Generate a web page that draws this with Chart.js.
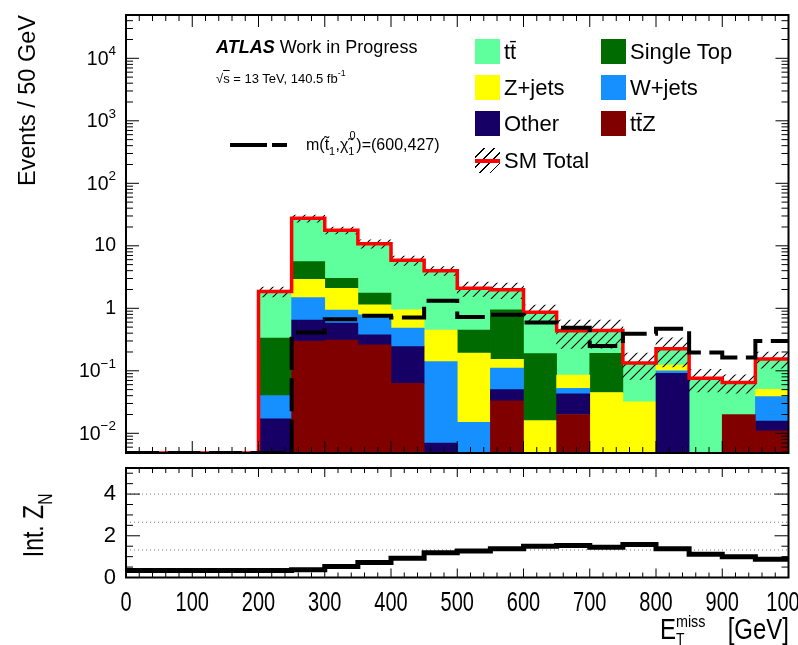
<!DOCTYPE html>
<html>
<head>
<meta charset="utf-8">
<script src="https://cdn.jsdelivr.net/npm/chart.js@4.4.1/dist/chart.umd.min.js"></script>
<style>
  html, body { margin: 0; padding: 0; background: #fff; }
  body { width: 798px; height: 645px; position: relative; overflow: hidden;
         font-family: "Liberation Sans", Arial, Helvetica, sans-serif; color: #000; }
  canvas { position: absolute; left: 0; top: 0; }
  .txt { position: absolute; white-space: nowrap; line-height: 1; }
  .leg { position: absolute; height: 25px; display: flex; align-items: center;
         font-size: 22px; line-height: 1; white-space: nowrap; }
  .leg .box { width: 25px; height: 25px; margin-right: 4px; flex: none; position: relative; }
  .hatch { background: repeating-linear-gradient(135deg, transparent 0 6px, #000 6px 7.2px); }
  .redbar { position: absolute; left: 0; right: 0; top: 11px; height: 4px; background: #f00; }
  .ss { position: relative; display: inline-block; height: 0; vertical-align: baseline; }
  .ss .u, .ss .d { position: absolute; left: 0; font-size: 0.68em; line-height: 1; }
  .ss .u { bottom: 0.5em; }
  .ss .d { top: -0.4em; }
  .dash { position: absolute; height: 4px; background: #000; }
</style>
</head>
<body>
<canvas id="upper" width="798" height="645"></canvas>
<canvas id="lower" width="798" height="645"></canvas>

<div class="txt" style="left:15px; top:315px; width:300px; text-align:right; font-size:23.5px; line-height:24px; transform-origin:top left; transform:rotate(-90deg);">Events / 50 GeV</div>
<div class="txt" style="left:-27px; top:511px; width:120px; text-align:center; font-size:23px; line-height:24px; transform:rotate(-90deg) scaleY(1.3);">Int. Z<span class="ss" style="width:0.7em"><span class="d">N</span></span></div>
<div class="txt" style="right:9px; top:614.5px; font-size:24px; transform-origin:right top; transform:scaleY(1.2);">E<span class="ss" style="width:1.6em"><span class="u" style="font-size:0.6em">miss</span><span class="d" style="font-size:0.58em">T</span></span>&nbsp;&nbsp;[GeV]</div>

<div class="txt" style="left:216px; top:38px; font-size:18px;"><b><i>ATLAS</i></b> Work in Progress</div>
<div class="txt" style="left:216px; top:71.5px; font-size:13px;">√<span style="text-decoration:overline">s</span> = 13 TeV, 140.5 fb<span class="ss" style="width:0.8em"><span class="u">-1</span></span></div>

<span class="dash" style="left:230px; top:143px; width:37px;"></span>
<span class="dash" style="left:272px; top:143px; width:15px;"></span>
<div class="txt" style="left:306px; top:137px; font-size:16px;">m(t&#x0303;<span class="ss" style="width:0.4em"><span class="d">1</span></span>,&#x03C7;&#x0303;<span class="ss" style="width:0.5em"><span class="u" style="bottom:0.8em; left:0.1em">0</span><span class="d">1</span></span>)=(600,427)</div>

<div class="leg" style="left:475px; top:39px;"><span class="box" style="background:#5eff9c"></span>tt&#x0304;</div>
<div class="leg" style="left:601px; top:39px;"><span class="box" style="background:#006b00"></span>Single Top</div>
<div class="leg" style="left:475px; top:75px;"><span class="box" style="background:#ffff00"></span>Z+jets</div>
<div class="leg" style="left:601px; top:75px;"><span class="box" style="background:#1790ff"></span>W+jets</div>
<div class="leg" style="left:475px; top:111px;"><span class="box" style="background:#160066"></span>Other</div>
<div class="leg" style="left:601px; top:111px;"><span class="box" style="background:#800000"></span>tt&#x0304;Z</div>
<div class="leg" style="left:475px; top:148px;"><span class="box hatch"><span class="redbar"></span></span>SM Total</div>

<script>
// bins of 50 GeV, lower edges
const binLow = [0, 50, 100, 150, 200, 250, 300, 350, 400, 450, 500, 550, 600, 650, 700, 750, 800, 850, 900, 950];

// expected events per bin, by process (stack order bottom -> top)
const ttz       = [0, 0, 0, 0, 0,     0.30, 0.31, 0.26,  0.063, 0,     0,     0.033, 0,     0.020,  0,     0,     0,      0,     0.020, 0.011];
const other     = [0, 0, 0, 0, 0.017, 0.35, 0.27, 0.115, 0.18,  0.007, 0,     0.017, 0,     0.023,  0,     0,     0.091,  0,     0,     0.0047];
const wjets     = [0, 0, 0, 0, 0.023, 0.83, 0.36, 0.41,  0.24,  0.133, 0.015, 0.061, 0,     0.0093, 0,     0,     0.0088, 0,     0,     0.023];
const zjets     = [0, 0, 0, 0, 0,     1.43, 1.15, 0.35,  0.46,  0.31,  0.178, 0.041, 0.016, 0.033,  0.045, 0.032, 0.024,  0,     0,     0.012];
const singleTop = [0, 0, 0, 0, 0.295, 2.66, 0.93, 0.61,  0,     0,     0.257, 0.79,  0.172, 0,      0.145, 0,     0,      0,     0,     0];
const ttbar     = [0, 0, 0, 0, 1.52,  21.9, 14.7, 9.06,  4.92,  3.55,  1.64,  1.04,  0.68,  0.352,  0.25,  0.101, 0.102,  0.076, 0.045, 0.104];

// SM total uncertainty (hatched band)
const smErr  = [0, 0, 0, 0, 0.33, 3.6, 2.2, 1.6, 1.0, 0.63, 0.54, 0.55, 0.26, 0.21, 0.21, 0.06, 0.11, 0.03, 0.021, 0.045];
// signal m(stop, neutralino) = (600, 427)
const signal = [0, 0, 0, 0, 0, 0.41, 0.67, 0.76, 0.71, 1.32, 0.725, 0.79, 0.59, 0.49, 0.25, 0.39, 0.47, 0.196, 0.163, 0.30];
// integrated significance (lower panel)
const intZN  = [0.33, 0.33, 0.33, 0.33, 0.33, 0.37, 0.53, 0.72, 0.92, 1.19, 1.27, 1.38, 1.5, 1.53, 1.45, 1.58, 1.38, 1.11, 1.0, 0.875];
const zRefLines = [1.32, 2.65, 4];

// tick labels
const yDecades = [-2, -1, 0, 1, 2, 3, 4];
const xLabels = [0, 100, 200, 300, 400, 500, 600, 700, 800, 900, 1000];
const znLabels = [0, 2, 4];

const Y_MIN = 4.84e-3, Y_MAX = 4.93e4;
const X_MAX = 1000, BIN = 50;
const FONT = '"Liberation Sans", Arial, sans-serif';

const processes = [
    { label: 'ttZ', values: ttz, color: '#800000' },
    { label: 'Other', values: other, color: '#160066' },
    { label: 'W+jets', values: wjets, color: '#1790ff' },
    { label: 'Z+jets', values: zjets, color: '#ffff00' },
    { label: 'Single Top', values: singleTop, color: '#006b00' },
    { label: 'ttbar', values: ttbar, color: '#5eff9c' },
];

const binCenter = binLow.map(x => x + BIN / 2);
const running = binLow.map(() => 0);
const barSets = processes.map(p => {
    const data = p.values.map((v, i) => {
        const lo = running[i];
        running[i] += v;
        return { x: binCenter[i], y: v > 0 ? [lo > 0 ? lo : Y_MIN, running[i]] : null };
    });
    return {
        type: 'bar', label: p.label, data, backgroundColor: p.color, borderWidth: 0,
        grouped: false, categoryPercentage: 1, barPercentage: 1, order: 10,
    };
});
const smTotal = running.slice();

// step line points at lower bin edges + closing point at the right edge
const stepPoints = (vals, floor) => {
    const pts = binLow.map((x, i) => ({ x, y: floor && !(vals[i] > 0) ? floor : vals[i] }));
    pts.push({ x: X_MAX, y: pts[pts.length - 1].y });
    return pts;
};

function hatchPattern() {
    const c = document.createElement('canvas');
    c.width = 10; c.height = 10;
    const g = c.getContext('2d');
    g.strokeStyle = '#000';
    g.lineWidth = 1.1;
    g.beginPath();
    g.moveTo(0, 10); g.lineTo(10, 0);
    g.moveTo(-1, 1); g.lineTo(1, -1);
    g.moveTo(9, 11); g.lineTo(11, 9);
    g.stroke();
    return g.createPattern(c, 'repeat');
}

// ROOT-like frame with inward ticks on all sides
const rootAxes = {
    id: 'rootAxes',
    afterDatasetsDraw(chart, args, o) {
        const { ctx, chartArea: a } = chart;
        const xs = chart.scales.x, ys = chart.scales.y;
        ctx.save();
        ctx.strokeStyle = '#000';
        ctx.lineWidth = 1;
        ctx.beginPath();
        for (let v = 0; v <= X_MAX; v += 20) {
            const px = xs.getPixelForValue(v);
            const len = v % 100 === 0 ? o.xMajor : o.xMinor;
            ctx.moveTo(px, a.bottom); ctx.lineTo(px, a.bottom - len);
            ctx.moveTo(px, a.top); ctx.lineTo(px, a.top + len);
        }
        o.yTicks().forEach(t => {
            const py = ys.getPixelForValue(t.v);
            if (py < a.top - 0.5 || py > a.bottom + 0.5) return;
            const len = t.major ? o.yMajor : o.yMinor;
            ctx.moveTo(a.left, py); ctx.lineTo(a.left + len, py);
            ctx.moveTo(a.right, py); ctx.lineTo(a.right - len, py);
        });
        ctx.stroke();
        ctx.lineWidth = 2;
        ctx.strokeRect(a.left, a.top, a.right - a.left, a.bottom - a.top);
        ctx.fillStyle = '#000';
        o.labels(ctx, xs, ys, a);
        ctx.restore();
    }
};

const commonScales = (yOpts) => ({
    x: {
        type: 'linear', min: 0, max: X_MAX, offset: false,
        ticks: { display: false, stepSize: 100 }, grid: { display: false, offset: false },
        border: { display: false }, afterFit(s) { s.height = 0; },
    },
    y: Object.assign({
        ticks: { display: false }, grid: { display: false }, border: { display: false },
        afterFit(s) { s.width = 0; },
    }, yOpts),
});

new Chart(document.getElementById('upper'), {
    type: 'bar',
    data: {
        datasets: [
            ...barSets,
            {
                type: 'bar', label: 'SM unc.', order: 3, grouped: false,
                categoryPercentage: 1, barPercentage: 1, borderWidth: 0,
                backgroundColor: hatchPattern(),
                data: smTotal.map((t, i) => ({ x: binCenter[i], y: t > 0 ? [t - smErr[i], t + smErr[i]] : null })),
            },
            {
                type: 'line', label: 'SM Total', order: 2, data: stepPoints(smTotal, Y_MIN),
                borderColor: '#ff0000', borderWidth: 3.5, stepped: true, pointRadius: 0, fill: false,
                borderCapStyle: 'butt', borderJoinStyle: 'miter',
            },
            {
                type: 'line', label: 'signal', order: 1, data: stepPoints(signal, Y_MIN),
                borderColor: '#000', borderWidth: 4, borderDash: [33, 8.5], stepped: true,
                pointRadius: 0, fill: false, borderCapStyle: 'butt', borderJoinStyle: 'miter',
            },
        ],
    },
    options: {
        responsive: false, animation: false, devicePixelRatio: 1, events: [],
        layout: { padding: { left: 126, right: 9.5, top: 15, bottom: 192 }, autoPadding: false },
        plugins: {
            legend: { display: false }, tooltip: { enabled: false },
            rootAxes: {
                xMajor: 12, xMinor: 6, yMajor: 13, yMinor: 7,
                yTicks() {
                    const t = [];
                    for (let e = -3; e <= 4; e++) {
                        for (let m = 1; m <= 9; m++) t.push({ v: m * Math.pow(10, e), major: m === 1 });
                    }
                    return t;
                },
                labels(ctx, xs, ys) {
                    const xr = 116;
                    ctx.textAlign = 'right';
                    ctx.textBaseline = 'middle';
                    yDecades.forEach(e => {
                        const py = ys.getPixelForValue(Math.pow(10, e));
                        ctx.font = '19.5px ' + FONT;
                        if (e === 0 || e === 1) {
                            ctx.fillText(e === 0 ? '1' : '10', xr, py);
                            return;
                        }
                        const ex = (e < 0 ? '\u2212' : '') + Math.abs(e);
                        ctx.font = '13.5px ' + FONT;
                        const w = ctx.measureText(ex).width;
                        ctx.fillText(ex, xr, py - 7);
                        ctx.font = '19.5px ' + FONT;
                        ctx.fillText('10', xr - w, py + 1);
                    });
                },
            },
        },
        scales: commonScales({ type: 'logarithmic', min: Y_MIN, max: Y_MAX }),
    },
    plugins: [rootAxes],
});

new Chart(document.getElementById('lower'), {
    type: 'line',
    data: {
        datasets: [
            {
                label: 'Int. ZN', order: 1, data: stepPoints(intZN), borderColor: '#000', borderWidth: 5,
                stepped: true, pointRadius: 0, fill: false, borderCapStyle: 'butt', borderJoinStyle: 'miter',
            },
            ...zRefLines.map(v => ({
                label: 'ref ' + v, order: 2, data: [{ x: 0, y: v }, { x: X_MAX, y: v }],
                borderColor: '#777', borderWidth: 1, borderDash: [1, 3], pointRadius: 0, fill: false,
            })),
        ],
    },
    options: {
        responsive: false, animation: false, devicePixelRatio: 1, events: [],
        layout: { padding: { left: 126, right: 9.5, top: 468, bottom: 67.5 }, autoPadding: false },
        plugins: {
            legend: { display: false }, tooltip: { enabled: false },
            rootAxes: {
                xMajor: 9, xMinor: 5, yMajor: 14, yMinor: 7,
                yTicks() {
                    const t = [];
                    for (let v = 0; v <= 5.25; v += 0.5) t.push({ v, major: v % 2 === 0 });
                    return t;
                },
                labels(ctx, xs, ys) {
                    ctx.textAlign = 'right';
                    ctx.textBaseline = 'middle';
                    ctx.font = '22px ' + FONT;
                    znLabels.forEach(v => ctx.fillText(String(v), 116, ys.getPixelForValue(v)));
                    ctx.textAlign = 'center';
                    ctx.textBaseline = 'alphabetic';
                    ctx.font = '20px ' + FONT;
                    xLabels.forEach(v => {
                        ctx.save();
                        ctx.translate(xs.getPixelForValue(v), 611);
                        ctx.scale(1, 1.4);
                        ctx.fillText(String(v), 0, 0);
                        ctx.restore();
                    });
                },
            },
        },
        scales: commonScales({ type: 'linear', min: 0, max: 5.25 }),
    },
    plugins: [rootAxes],
});
</script>
</body>
</html>
